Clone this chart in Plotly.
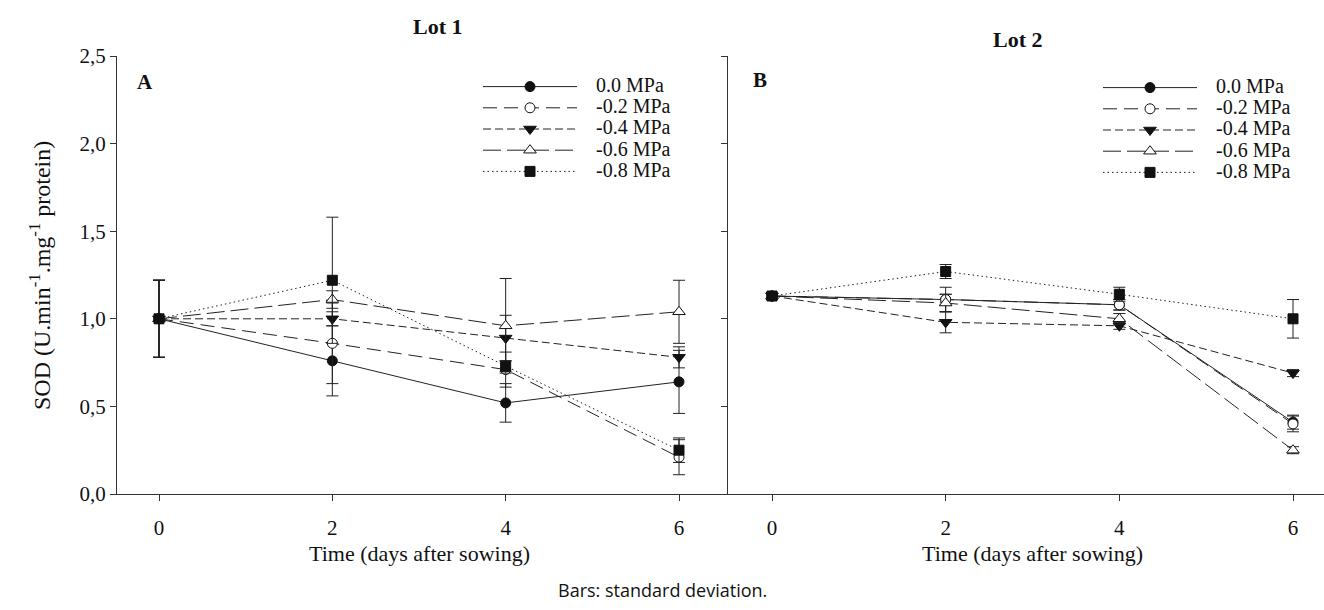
import plotly.graph_objects as go

days = [0, 2, 4, 6]
series_names = ["0.0 MPa", "-0.2 MPa", "-0.4 MPa", "-0.6 MPa", "-0.8 MPa"]

# Lot 1 (panel A)
lot1_00 = [1.00, 0.76, 0.52, 0.64]
lot1_02 = [1.00, 0.86, 0.71, 0.21]
lot1_04 = [1.00, 1.00, 0.89, 0.78]
lot1_06 = [1.00, 1.11, 0.96, 1.04]
lot1_08 = [1.00, 1.22, 0.73, 0.25]
lot1_sd_00 = [0.22, 0.20, 0.11, 0.18]
lot1_sd_02 = [0.22, 0.23, 0.10, 0.10]
lot1_sd_04 = [0.22, 0.04, 0.13, 0.06]
lot1_sd_06 = [0.22, 0.05, 0.27, 0.18]
lot1_sd_08 = [0.22, 0.36, 0.03, 0.07]

# Lot 2 (panel B)
lot2_00 = [1.13, 1.11, 1.08, 0.41]
lot2_02 = [1.13, 1.11, 1.08, 0.40]
lot2_04 = [1.13, 0.98, 0.96, 0.69]
lot2_06 = [1.13, 1.09, 1.00, 0.25]
lot2_08 = [1.13, 1.27, 1.14, 1.00]
lot2_sd_00 = [0.02, 0.07, 0.03, 0.04]
lot2_sd_02 = [0.02, 0.03, 0.03, 0.045]
lot2_sd_04 = [0.02, 0.06, 0.02, 0.02]
lot2_sd_06 = [0.02, 0.05, 0.03, 0.02]
lot2_sd_08 = [0.02, 0.04, 0.04, 0.11]

y_tickvals = [0, 0.5, 1.0, 1.5, 2.0, 2.5]
y_ticktext = ["0,0", "0,5", "1,0", "1,5", "2,0", "2,5"]
x_tickvals = [0, 2, 4, 6]

styles = [
    dict(dash="solid", symbol="circle", open=False),
    dict(dash="14px,7px", symbol="circle", open=True),
    dict(dash="8px,4px", symbol="triangle-down", open=False),
    dict(dash="18px,6px", symbol="triangle-up", open=True),
    dict(dash="1.5px,3px", symbol="square", open=False),
]

W, H = 1324, 610
SERIF = "Liberation Serif"
INK = "#111111"

fig = go.Figure()

lot1 = [lot1_00, lot1_02, lot1_04, lot1_06, lot1_08]
lot1_sd = [lot1_sd_00, lot1_sd_02, lot1_sd_04, lot1_sd_06, lot1_sd_08]
lot2 = [lot2_00, lot2_02, lot2_04, lot2_06, lot2_08]
lot2_sd = [lot2_sd_00, lot2_sd_02, lot2_sd_04, lot2_sd_06, lot2_sd_08]

NB = "\u00a0\u00a0\u00a0\u00a0"


def leg_label(name):
    return NB + '<span style="font-size:20px">' + name + "</span>"


for vals, sds, xa, ya, leg in [
        (lot1, lot1_sd, "x", "y", "legend"),
        (lot2, lot2_sd, "x2", "y2", "legend2")]:
    for name, v, sd, st in zip(series_names, vals, sds, styles):
        fig.add_trace(go.Scatter(
            x=days, y=v, name=leg_label(name), mode="lines+markers",
            xaxis=xa, yaxis=ya, legend=leg,
            line=dict(color="#222222", width=1, dash=st["dash"]),
            marker=dict(symbol=st["symbol"],
                        size=11 if "triangle" in st["symbol"] else 10,
                        color="white" if st["open"] else INK,
                        line=dict(color=INK, width=1)),
            error_y=dict(type="data", array=sd, visible=True,
                         color="#222222", thickness=1, width=6),
        ))

axis_common = dict(showline=True, linecolor="#333333", linewidth=1,
                    ticks="outside", tickcolor="#333333", ticklen=6,
                    showgrid=False, zeroline=False,
                    tickfont=dict(family=SERIF, size=21, color=INK))

x1_0 = 159
x1_px = (679 - 159) / 6.0
x2_0 = 772
x2_px = (1293 - 772) / 6.0

leg_font = dict(family=SERIF, size=14, color=INK)

fig.update_layout(
    width=W, height=H,
    margin=dict(l=0, r=0, t=0, b=0),
    paper_bgcolor="white", plot_bgcolor="white",
    xaxis=dict(domain=[117 / W, 727 / W],
               range=[(117 - x1_0) / x1_px, (727 - x1_0) / x1_px],
               tickvals=x_tickvals, anchor="y", ticklabelstandoff=9,
               automargin=False, **axis_common),
    xaxis2=dict(domain=[728 / W, 1.0],
                range=[(728 - x2_0) / x2_px, (1324 - x2_0) / x2_px],
                tickvals=x_tickvals, anchor="y2", ticklabelstandoff=9,
                automargin=False, **axis_common),
    yaxis=dict(domain=[(H - 494) / H, (H - 56) / H], range=[0, 2.5],
               tickvals=y_tickvals, ticktext=y_ticktext, anchor="x",
               automargin=False, **axis_common),
    yaxis2=dict(domain=[(H - 494) / H, (H - 56) / H], range=[0, 2.5],
                tickvals=y_tickvals, showticklabels=False, anchor="x2",
                automargin=False, **axis_common),
    legend=dict(x=478 / W, y=(H - 71) / H, xanchor="left", yanchor="top",
                bgcolor="rgba(0,0,0,0)", itemwidth=94,
                font=leg_font, tracegroupgap=0),
    legend2=dict(x=1098 / W, y=(H - 72) / H, xanchor="left", yanchor="top",
                 bgcolor="rgba(0,0,0,0)", itemwidth=94,
                 font=leg_font, tracegroupgap=0),
    showlegend=True,
)


def note(text, x, y, size=20, xref="paper", family=SERIF, **kw):
    return dict(text=text, x=x if xref != "paper" else x / W, xref=xref,
                y=(H - y) / H, yref="paper", xanchor="center", yanchor="middle",
                showarrow=False, font=dict(family=family, size=size, color=INK), **kw)


annotations = [
    note("<b>Lot 1</b>", 438, 26, size=22),
    note("<b>Lot 2</b>", 1018, 40, size=22),
    note("<b>A</b>", 145, 82, size=21),
    note("<b>B</b>", 760, 80, size=21),
    note("Time (days after sowing)", 3, 553, size=22, xref="x"),
    note("Time (days after sowing)", 3, 553, size=22, xref="x2"),
    note("SOD (U.min<sup>-1</sup>.mg<sup>-1</sup> protein)", 40, 276, size=24, textangle=-90),
    note("Bars: standard deviation.", 662, 590, size=18, family="Open Sans"),
]
fig.update_layout(annotations=annotations)

fig.write_html("out.html")
